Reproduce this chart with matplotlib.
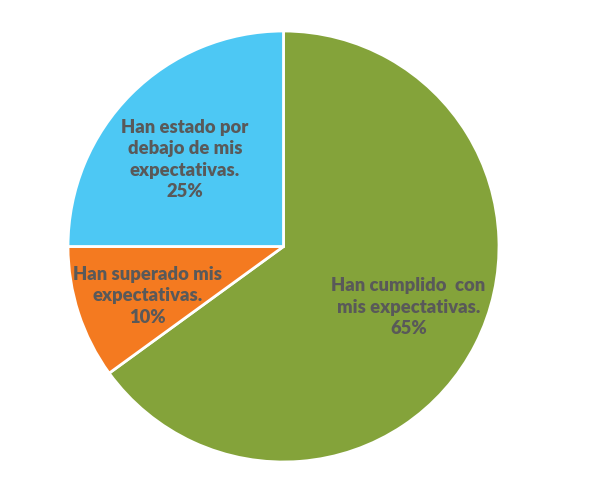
import numpy as np
import matplotlib
matplotlib.use('Agg')
import matplotlib.pyplot as plt

labels = ['Han cumplido  con\nmis expectativas.', 'Han superado mis\nexpectativas.',
          'Han estado por\ndebajo de mis\nexpectativas.']
values = [65, 10, 25]
colors = ['#84A33A', '#F47A20', '#4DC8F4']
# radial distance of each label (fraction of radius)
label_dist = [0.645, 0.67, 0.61]
label_angle_shift = [1.0, 2.0, 3.5]

fig = plt.figure(figsize=(5.89, 4.83), dpi=100)
ax = fig.add_axes([68 / 589, 21 / 483, 431 / 589, 431 / 483])

wedges, _ = ax.pie(values, colors=colors, startangle=90, counterclock=False,
                   radius=1.0, wedgeprops=dict(edgecolor='white', linewidth=2))

for w, lbl, v, d, s in zip(wedges, labels, values, label_dist, label_angle_shift):
    ang = np.deg2rad((w.theta1 + w.theta2) / 2 + s)
    ax.text(d * np.cos(ang), d * np.sin(ang), f'{lbl}\n{v}%', ha='center', va='center',
            fontsize=13.2, fontweight='heavy', color='#595959', family=['Lato', 'DejaVu Sans'],
            linespacing=1.32)

ax.set_xlim(-1, 1)
ax.set_ylim(-1, 1)
ax.set_aspect('equal')
ax.axis('off')

fig.savefig('out.png', dpi=100)
